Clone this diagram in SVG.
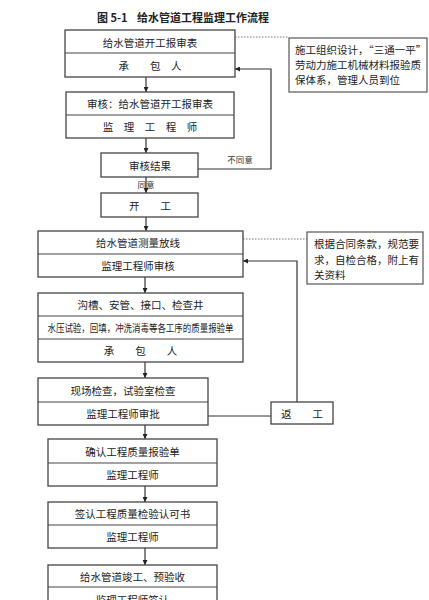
<svg xmlns="http://www.w3.org/2000/svg" width="429" height="600" viewBox="0 0 429 600">
<defs>
<marker id="ah" viewBox="0 0 10 10" refX="10" refY="5" markerWidth="5" markerHeight="5" orient="auto" markerUnits="userSpaceOnUse">
<path d="M0,0 L10,5 L0,10 z" fill="#222"/>
</marker>
<style>
.box{fill:#fff;stroke:#444;stroke-width:1.3}
.note{fill:#fff;stroke:#555;stroke-width:1.2}
.div{stroke:#444;stroke-width:1.1}
.t{font-family:"Noto Sans CJK SC","Noto Sans",sans-serif;font-size:10.5px;fill:#222;text-anchor:middle;dominant-baseline:central}
.n{font-family:"Noto Sans CJK SC","Noto Sans",sans-serif;font-size:10.5px;fill:#222}
.s{font-family:"Noto Sans CJK SC","Noto Sans",sans-serif;font-size:8.5px;fill:#333;text-anchor:middle;dominant-baseline:central}
.ttl{font-family:"Noto Sans CJK SC","Noto Sans",sans-serif;font-size:11px;font-weight:bold;fill:#222}
.c{fill:none;stroke:#333;stroke-width:1.2}
.a{fill:none;stroke:#333;stroke-width:1.2;marker-end:url(#ah)}
.d{fill:none;stroke:#777;stroke-width:1;stroke-dasharray:1.5 1.5}
</style>
</defs>
<rect width="429" height="600" fill="#fff"/>
<text class="ttl" x="97" y="22">图 5-1</text>
<text class="ttl" x="137" y="22">给水管道工程监理工作流程</text>

<g id="connectors">
<line class="a" x1="146" y1="77" x2="146" y2="92"/>
<line class="a" x1="146" y1="138" x2="146" y2="153"/>
<line class="a" x1="146" y1="177" x2="146" y2="193"/>
<line class="a" x1="146" y1="217" x2="146" y2="231"/>
<polyline class="a" points="198,169 271,169 271,69 235,69"/>
<line class="a" x1="145" y1="277" x2="145" y2="293"/>
<line class="a" x1="145" y1="362" x2="145" y2="378"/>
<line class="c" x1="208" y1="416" x2="271" y2="416"/>
<polyline class="a" points="297,402 297,261 243,261"/>
<line class="a" x1="145" y1="425" x2="145" y2="439"/>
<line class="a" x1="145" y1="486" x2="145" y2="502"/>
<line class="a" x1="145" y1="548" x2="145" y2="565"/>
<line class="d" x1="235" y1="37" x2="289" y2="37"/>
<line class="d" x1="243" y1="239" x2="307" y2="239"/>
<text class="s" x="240" y="159">不同意</text>
<text class="s" x="146" y="184">同意</text>
</g>

<g id="n1">
<rect class="box" x="65" y="30" width="170" height="47"/>
<line class="div" x1="65" y1="53" x2="235" y2="53"/>
<text class="t" x="150" y="42">给水管道开工报审表</text>
<text class="t" x="150" y="65">承　　包　人</text>
</g>
<g id="note1">
<rect class="note" x="289" y="38" width="138" height="54"/>
<text class="n" x="295" y="54">施工组织设计，“三通一平”</text>
<text class="n" x="295" y="69">劳动力施工机械材料报验质</text>
<text class="n" x="295" y="84">保体系，管理人员到位</text>
</g>
<g id="n2">
<rect class="box" x="66" y="92" width="168" height="46"/>
<line class="div" x1="66" y1="115" x2="234" y2="115"/>
<text class="t" x="150" y="103.5">审核：给水管道开工报审表</text>
<text class="t" x="150" y="126.5">监　理　工　程　师</text>
</g>
<g id="n3">
<rect class="box" x="101" y="153" width="97" height="24"/>
<text class="t" x="150" y="165">审核结果</text>
</g>
<g id="n4">
<rect class="box" x="101" y="193" width="97" height="24"/>
<text class="t" x="150" y="205">开　　工</text>
</g>
<g id="n5">
<rect class="box" x="38" y="231" width="205" height="46"/>
<line class="div" x1="38" y1="254" x2="243" y2="254"/>
<text class="t" x="138" y="242.5">给水管道测量放线</text>
<text class="t" x="138" y="265.5">监理工程师审核</text>
</g>
<g id="note2">
<rect class="note" x="307" y="232" width="116" height="52"/>
<text class="n" x="314" y="248">根据合同条款，规范要</text>
<text class="n" x="314" y="264">求，自检合格，附上有</text>
<text class="n" x="314" y="279">关资料</text>
</g>
<g id="n6">
<rect class="box" x="38" y="293" width="205" height="69"/>
<line class="div" x1="38" y1="316" x2="243" y2="316"/>
<line class="div" x1="38" y1="339" x2="243" y2="339"/>
<text class="t" x="140.5" y="304.5">沟槽、安管、接口、检查井</text>
<text class="t" x="140.5" y="327.5" textLength="186" lengthAdjust="spacingAndGlyphs">水压试验，回填，冲洗消毒等各工序的质量报验单</text>
<text class="t" x="140.5" y="350.5">承　　包　　人</text>
</g>
<g id="n7">
<rect class="box" x="38" y="378" width="170" height="47"/>
<line class="div" x1="38" y1="402" x2="208" y2="402"/>
<text class="t" x="123" y="390">现场检查，试验室检查</text>
<text class="t" x="123" y="413.5">监理工程师审批</text>
</g>
<g id="n8">
<rect class="box" x="271" y="402" width="62" height="22"/>
<text class="t" x="302" y="413">返　　工</text>
</g>
<g id="n9">
<rect class="box" x="48" y="439" width="169" height="47"/>
<line class="div" x1="48" y1="463" x2="217" y2="463"/>
<text class="t" x="132.5" y="451">确认工程质量报验单</text>
<text class="t" x="132.5" y="474.5">监理工程师</text>
</g>
<g id="n10">
<rect class="box" x="48" y="502" width="169" height="46"/>
<line class="div" x1="48" y1="525" x2="217" y2="525"/>
<text class="t" x="132.5" y="513.5">签认工程质量检验认可书</text>
<text class="t" x="132.5" y="536.5">监理工程师</text>
</g>
<g id="n11">
<rect class="box" x="48" y="565" width="169" height="46"/>
<line class="div" x1="48" y1="587" x2="217" y2="587"/>
<text class="t" x="132.5" y="576">给水管道竣工、预验收</text>
<text class="t" x="132.5" y="599">监理工程师签认</text>
</g>
</svg>
